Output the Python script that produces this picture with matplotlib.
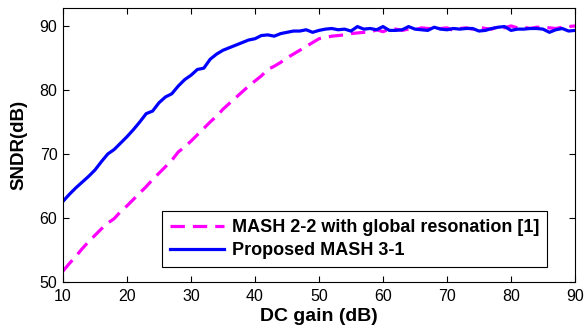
import matplotlib
matplotlib.use("Agg")
import matplotlib.pyplot as plt
import numpy as np

# DC gain axis (dB)
dc_gain = list(range(10, 91))

# MASH 2-2 with global resonation [1]
sndr_mash22 = [51.7, 52.9, 54.0, 55.2, 56.3, 57.3, 58.3, 59.2, 59.9, 61.0,
               61.9, 62.9, 63.9, 64.9, 66.0, 67.0, 68.0, 69.0, 70.3, 71.1,
               72.0, 73.0, 74.0, 75.0, 75.9, 77.0, 77.9, 78.8, 79.7, 80.6,
               81.4, 82.2, 83.2, 83.7, 84.3, 85.0, 85.6, 86.2, 86.8, 87.4,
               88.0, 88.2, 88.4, 88.5, 88.6, 88.8, 88.9, 89.0, 89.0, 89.4,
               89.1, 89.5, 89.5, 89.3, 89.5, 89.4, 89.7, 89.6, 89.6, 89.6,
               89.7, 89.3, 89.6, 89.7, 89.5, 89.8, 89.6, 89.5, 89.9, 89.7,
               90.0, 89.7, 89.8, 89.6, 89.8, 89.8, 89.7, 89.6, 89.8, 89.9,
               90.0]

# Proposed MASH 3-1
sndr_mash31 = [62.6, 63.7, 64.7, 65.6, 66.5, 67.5, 68.8, 70.0, 70.7, 71.7,
               72.7, 73.8, 75.0, 76.3, 76.7, 78.0, 78.9, 79.4, 80.6, 81.6,
               82.3, 83.2, 83.4, 84.8, 85.6, 86.2, 86.6, 87.0, 87.4, 87.8,
               88.0, 88.5, 88.6, 88.4, 88.8, 89.0, 89.2, 89.2, 89.4, 89.0,
               89.3, 89.5, 89.6, 89.4, 89.5, 89.2, 89.9, 89.5, 89.6, 89.4,
               89.9, 89.3, 89.3, 89.4, 89.9, 89.5, 89.4, 89.3, 89.8, 89.5,
               89.4, 89.6, 89.5, 89.6, 89.6, 89.2, 89.3, 89.6, 89.8, 89.9,
               89.3, 89.5, 89.5, 89.6, 89.6, 89.5, 89.0, 89.4, 89.6, 89.2,
               89.3]

plt.rcParams['font.family'] = ['Liberation Sans', 'DejaVu Sans']

fig = plt.figure(figsize=(5.84, 3.31), dpi=100)
ax = fig.add_axes([63 / 584, 1 - 282 / 331, 512 / 584, 274 / 331])

ax.plot(dc_gain, sndr_mash22, color='#ff00ff', lw=2.3, ls=(0, (4.5, 2.5)),
        label='MASH 2-2 with global resonation [1]')
ax.plot(dc_gain, sndr_mash31, color='#0000ff', lw=2.3,
        label='Proposed MASH 3-1')

ax.set_xlim(10, 90)
ax.set_ylim(50, 92.8)
ax.set_xticks(range(10, 91, 10))
ax.set_yticks(range(50, 91, 10))
ax.tick_params(direction='in', top=True, right=True, labelsize=11.5, length=4)
ax.tick_params(axis='x', pad=5)
ax.tick_params(axis='y', pad=4)
for s in ax.spines.values():
    s.set_linewidth(0.8)

ax.set_xlabel('DC gain (dB)', fontsize=14, fontweight='bold', labelpad=3)
ax.set_ylabel('SNDR(dB)', fontsize=13.5, fontweight='bold', labelpad=9)

leg = ax.legend(loc='lower right', bbox_to_anchor=(547 / 584, 1 - 267 / 331),
                bbox_transform=fig.transFigure, prop={'weight': 'bold', 'size': 13},
                fancybox=False, edgecolor='black', framealpha=1,
                handlelength=3.0, handletextpad=0.4, borderpad=0.45,
                labelspacing=0.3, borderaxespad=0)
leg.get_frame().set_linewidth(0.8)

fig.savefig('out.png', dpi=100)
